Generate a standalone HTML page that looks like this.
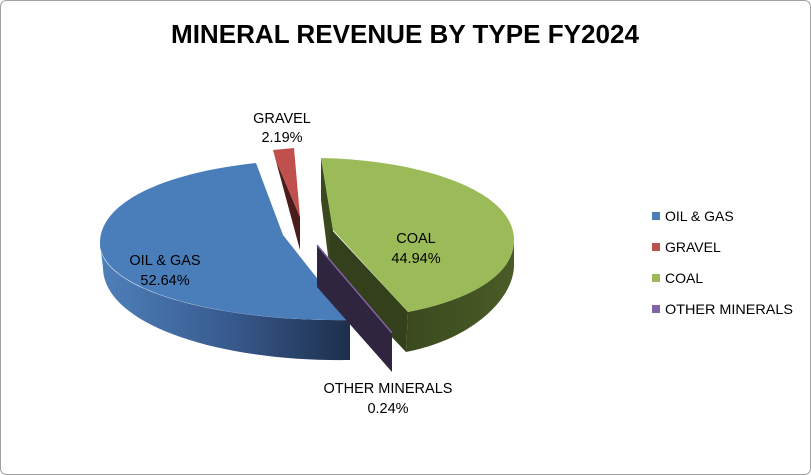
<!DOCTYPE html>
<html><head><meta charset="utf-8"><style>
html,body{margin:0;padding:0;background:#fff}
svg{display:block}
text{font-family:"Liberation Sans",sans-serif;fill:#000}
</style></head><body>
<svg width="811" height="475" viewBox="0 0 811 475">
<defs>
<linearGradient id="og" x1="0" x2="1" y1="0" y2="0">
<stop offset="0" stop-color="#4f80ba"/><stop offset="0.5" stop-color="#385c90"/><stop offset="1" stop-color="#1e2f4c"/>
</linearGradient>
<linearGradient id="cs" x1="0" x2="1"><stop offset="0" stop-color="#3a4a1e"/><stop offset="1" stop-color="#4a5c26"/></linearGradient>
</defs>
<rect x="0.5" y="0.5" width="810" height="474" rx="6" fill="#fff" stroke="#a0a0a0"/>
<text x="405" y="43" text-anchor="middle" font-size="26" font-weight="bold" textLength="468" lengthAdjust="spacingAndGlyphs">MINERAL REVENUE BY TYPE FY2024</text>
<path d="M100,243 C98,290 220,322 350,320 L350,360 C220,362 104,325 103,268 Z" fill="url(#og)"/>
<path d="M256,163 C170,172 100,200 100,243 C100,290 220,322 350,320 L283,235 Z" fill="#4a7ebb"/>
<polygon points="273,150 277,163 300,217 300,250" fill="#4a1c1c"/>
<polygon points="273,150 294,148 300,217 277,163" fill="#c0504d"/>
<polygon points="321,158 333,230 330,272 321,200" fill="#3a4a1e"/>
<polygon points="330,228 408,312 406,352 330,272" fill="#33401b"/>
<path d="M408,312 C470,300 514,275 514,240 L514,265 C514,300 470,340 406,352 Z" fill="url(#cs)"/>
<path d="M321,158 C420,160 514,190 514,240 C514,275 470,300 408,312 L333,230 Z" fill="#9bbb59"/>
<polygon points="317,245 392,333 392,372 317,287" fill="#30253f"/>
<line x1="317" y1="245" x2="392" y2="333" stroke="#8064a2" stroke-width="1.5"/>
<g font-size="14.5" text-anchor="middle">
<text x="282" y="123">GRAVEL</text><text x="282" y="142">2.19%</text>
<text x="416" y="243">COAL</text><text x="416" y="263">44.94%</text>
<text x="165" y="265">OIL &amp; GAS</text><text x="165" y="285">52.64%</text>
<text x="388" y="393">OTHER MINERALS</text><text x="388" y="413">0.24%</text>
</g>
<g font-size="14">
<rect x="652" y="212" width="8" height="8" fill="#4a7ebb"/><text x="665" y="221">OIL &amp; GAS</text>
<rect x="652" y="243" width="8" height="8" fill="#c0504d"/><text x="665" y="252">GRAVEL</text>
<rect x="652" y="274" width="8" height="8" fill="#9bbb59"/><text x="665" y="283">COAL</text>
<rect x="652" y="305" width="8" height="8" fill="#8064a2"/><text x="665" y="314" textLength="128" lengthAdjust="spacingAndGlyphs">OTHER MINERALS</text>
</g>
</svg>
</body></html>
